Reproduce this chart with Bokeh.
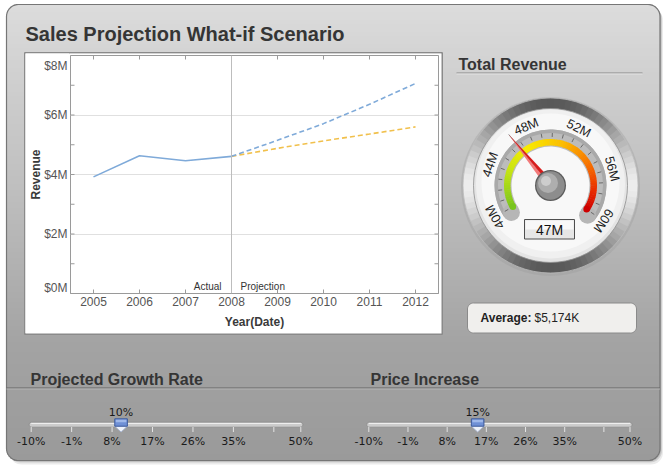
import math
from bokeh.plotting import figure
from bokeh.layouts import row
from bokeh.models import Range1d, FixedTicker, Span, GridBox
from bokeh.embed import file_html
from bokeh.resources import INLINE
from bokeh.core.properties import value

W, H = 666, 465
FONT = value("Liberation Sans")
SFONT = value("DejaVu Sans")

# ---------------- data ----------------
title_text = "Sales Projection What-if Scenario"
years = [2005, 2006, 2007, 2008, 2009, 2010, 2011, 2012]
year_labels = ["2005", "2006", "2007", "2008", "2009", "2010", "2011", "2012"]
actual_years = [2005, 2006, 2007, 2008]
actual_revenue = [3.92, 4.63, 4.46, 4.61]
proj_years = [2008, 2009, 2010, 2011, 2012]
proj_growth_revenue = [4.61, 5.15, 5.71, 6.36, 7.06]
proj_price_revenue = [4.61, 4.88, 5.13, 5.36, 5.60]
y_ticks = [0, 2, 4, 6, 8]
y_tick_labels = ["$0M", "$2M", "$4M", "$6M", "$8M"]
divider_year = 2008
section_labels = ["Actual", "Projection"]
x_axis_title = "Year(Date)"
y_axis_title = "Revenue"

gauge_title = "Total Revenue"
gauge_ticks = [40, 44, 48, 52, 56, 60]
gauge_tick_labels = ["40M", "44M", "48M", "52M", "56M", "60M"]
gauge_value = 46.6
gauge_value_label = "47M"
average_label = "Average:"
average_value = "$5,174K"

slider_ticks = [-10, -1, 8, 17, 26, 35, 44, 50]
slider_tick_labels = ["-10%", "-1%", "8%", "17%", "26%", "35%", "", "50%"]
growth_title = "Projected Growth Rate"
growth_value = 10
price_title = "Price Increase"
price_value = 15


# ---------------- helpers ----------------
def Y(y):
    return H - y


def hexgray(g):
    g = int(round(max(0, min(255, g))))
    return "#%02x%02x%02x" % (g, g, g)


def lerp_stops(t, stops):
    for (t0, c0), (t1, c1) in zip(stops[:-1], stops[1:]):
        if t <= t1:
            u = 0 if t1 == t0 else (t - t0) / (t1 - t0)
            return tuple(a + (b - a) * u for a, b in zip(c0, c1))
    return stops[-1][1]


def rgbhex(c):
    return "#%02x%02x%02x" % tuple(int(round(max(0, min(255, v)))) for v in c)


def rr_points(x0, y0, x1, y1, r, n=10):
    xs, ys = [], []
    for cx, cy, a0 in [(x1 - r, y0 + r, -90), (x1 - r, y1 - r, 0), (x0 + r, y1 - r, 90), (x0 + r, y0 + r, 180)]:
        for k in range(n + 1):
            a = math.radians(a0 + 90 * k / n)
            xs.append(cx + r * math.cos(a))
            ys.append(Y(cy + r * math.sin(a)))
    return xs, ys


PX0, PY0, PX1, PY1, PR = 6, 4, 659.5, 460, 12
BG_STOPS = [(4, (220,) * 3), (100, (204,) * 3), (200, (189,) * 3), (300, (171,) * 3),
            (345, (163,) * 3), (460, (154,) * 3)]

BOX_L, BOX_T, BOX_R, BOX_B = 25, 53, 441, 333
FR_L, FR_T, FR_B = 70, 55, 293

# ---------------- background page figure ----------------
bg = figure(width=W, height=H, x_range=Range1d(0, W), y_range=Range1d(0, H),
            output_backend="svg", toolbar_location=None, x_axis_location=None, y_axis_location=None,
            min_border=0, outline_line_color=None, background_fill_color="white",
            border_fill_color="white", frame_align=False)
bg.grid.visible = False

for dx, dy, a in [(3, 4, 0.08), (2, 2, 0.12), (1, 1, 0.12)]:
    xs, ys = rr_points(PX0 + dx, PY0 + dy, PX1 + dx, PY1 + dy, PR)
    bg.patch(xs, ys, fill_color="black", fill_alpha=a, line_color=None)
L, R, T, B, C = [], [], [], [], []
step = 2
y = PY0
while y < PY1:
    ym = y + step / 2
    inset = 0
    if ym < PY0 + PR:
        d = PY0 + PR - ym
        inset = PR - math.sqrt(max(PR * PR - d * d, 0))
    elif ym > PY1 - PR:
        d = ym - (PY1 - PR)
        inset = PR - math.sqrt(max(PR * PR - d * d, 0))
    L.append(PX0 + inset)
    R.append(PX1 - inset)
    T.append(Y(y) + 0.5)
    B.append(Y(min(y + step, PY1)) - 0.5)
    C.append(rgbhex(lerp_stops(ym, BG_STOPS)))
    y += step
bg.quad(left=L, right=R, top=T, bottom=B, fill_color=C, line_color=None)
xs, ys = rr_points(PX0, PY0, PX1, PY1, PR)
bg.patch(xs, ys, fill_color=None, line_color="#767676", line_width=1.2)
bx0, by0, bx1, by1 = BOX_L - 0.75, BOX_T - 0.75, BOX_R + 0.75, BOX_B + 0.75
bg.patch([bx0, bx1, bx1, bx0], [Y(by0), Y(by0), Y(by1), Y(by1)], fill_color="white",
         line_color="#8a8a8a", line_width=1.5)

bg.text(x=[25], y=[Y(33)], text=[title_text], text_font=FONT, text_font_size="20px",
        text_font_style="bold", text_color="#353535", text_align="left", text_baseline="alphabetic")

# ---------------- gauge ----------------
f = bg
f.text(x=[458], y=[Y(64)], text=[gauge_title], text_font=FONT, text_font_size="16px", text_font_style="bold",
       text_color="#353535", text_align="left", text_baseline="alphabetic")
f.segment(x0=[456], y0=[Y(72.5)], x1=[642], y1=[Y(72.5)], line_color="#888888", line_width=1)
f.segment(x0=[456], y0=[Y(73.5)], x1=[642], y1=[Y(73.5)], line_color="#e4e4e4", line_width=1)

cx, cy = 550, Y(185)
gmin, gmax = gauge_ticks[0], gauge_ticks[-1]


def ang(v):
    return math.radians(209.5 - (v - gmin) / (gmax - gmin) * 243.0)


f.circle(cx, cy - 1, radius=89.5, fill_color="#9a9a9a", fill_alpha=0.35, line_color=None)
n = 90
st = [2 * math.pi * k / n for k in range(n)]
en = [s + 2 * math.pi / n + 0.012 for s in st]
cols = [hexgray(238 - 150 * abs(math.sin(s + math.pi / n)) ** 1.5) for s in st]
f.annular_wedge(x=cx, y=cy, inner_radius=76, outer_radius=87.5, start_angle=st, end_angle=en,
                fill_color=cols, line_color=None)
f.circle(cx, cy, radius=87.5, fill_color=None, line_color="#bdbdbd", line_width=0.8)
f.circle(cx, cy, radius=77, fill_color="#e4e4e4", line_color="#8e8e8e", line_width=0.8)
f.circle(cx, cy + 1.5, radius=74.5, fill_color="#f0f0f0", line_color=None)
f.circle(cx, cy + 3, radius=69, fill_color="#f8f8f8", line_color=None)

a0, a1 = ang(gmax) - 0.09, ang(gmin) + 0.09
f.annular_wedge(x=cx, y=cy, inner_radius=39, outer_radius=56, start_angle=a0, end_angle=a1,
                fill_color="#bcbcbc", line_color=None)
f.annular_wedge(x=cx, y=cy, inner_radius=52.5, outer_radius=56, start_angle=a0, end_angle=a1,
                fill_color="#a9a9a9", line_color=None)
f.circle(x=[cx + 47.5 * math.cos(a) for a in (a0, a1)], y=[cy + 47.5 * math.sin(a) for a in (a0, a1)],
         radius=8.5, fill_color="#b6b6b6", line_color=None)

ARC_STOPS = [(0.0, (120, 196, 30)), (0.2, (196, 228, 20)), (0.36, (248, 236, 0)), (0.55, (252, 192, 0)),
             (0.75, (247, 112, 0)), (0.9, (232, 40, 0)), (1.0, (205, 0, 0))]
m = 80
vs = [gmin + (gmax - gmin) * k / m for k in range(m + 1)]
f.annular_wedge(x=cx, y=cy, inner_radius=40, outer_radius=46.5,
                start_angle=[ang(vs[k + 1]) for k in range(m)],
                end_angle=[ang(vs[k]) + 0.01 for k in range(m)],
                fill_color=[rgbhex(lerp_stops((k + 0.5) / m, ARC_STOPS)) for k in range(m)], line_color=None)
f.circle(x=[cx + 43.25 * math.cos(ang(v)) for v in (gmin, gmax)],
         y=[cy + 43.25 * math.sin(ang(v)) for v in (gmin, gmax)], radius=3.25,
         fill_color=[rgbhex(ARC_STOPS[0][1]), rgbhex(ARC_STOPS[-1][1])], line_color=None)

tv = list(range(gmin, gmax + 1))
f.segment(x0=[cx + 48.5 * math.cos(ang(v)) for v in tv], y0=[cy + 48.5 * math.sin(ang(v)) for v in tv],
          x1=[cx + 52.5 * math.cos(ang(v)) for v in tv], y1=[cy + 52.5 * math.sin(ang(v)) for v in tv],
          line_color="#6a6a6a", line_width=1)
f.text(x=[cx + 64 * math.cos(ang(v)) for v in gauge_ticks], y=[cy + 64 * math.sin(ang(v)) for v in gauge_ticks],
       text=gauge_tick_labels, angle=[ang(v) - math.pi / 2 for v in gauge_ticks], text_font=FONT,
       text_font_size="13px", text_color="#1e1e1e", text_align="center", text_baseline="middle")

th = ang(gauge_value)
tip = (cx + 66 * math.cos(th), cy + 66 * math.sin(th))
back = (cx - 5 * math.cos(th), cy - 5 * math.sin(th))
pl = (cx + 4.5 * math.cos(th + math.pi / 2), cy + 4.5 * math.sin(th + math.pi / 2))
pr = (cx + 4.5 * math.cos(th - math.pi / 2), cy + 4.5 * math.sin(th - math.pi / 2))
f.segment(x0=[cx], y0=[cy], x1=[tip[0]], y1=[tip[1]], line_color="#8a8a8a", line_width=1)
f.patches(xs=[[tip[0], pl[0], back[0]], [tip[0], pr[0], back[0]]],
          ys=[[tip[1], pl[1], back[1]], [tip[1], pr[1], back[1]]],
          fill_color=["#f27a7a", "#d81c1c"], line_color=None)

f.circle(cx, cy, radius=15.5, fill_color="#5c5c5c", line_color=None)
f.circle(cx, cy, radius=14.2, fill_color="#8d8d8d", line_color=None)
f.circle(cx - 2.5, cy + 2.5, radius=10, fill_color="#aeaeae", line_color=None)
f.circle(cx - 4.5, cy + 4.5, radius=5, fill_color="#cdcdcd", line_color=None)

f.quad(left=[524], right=[574], top=[Y(219)], bottom=[Y(238.5)], fill_color="#e6e6e6",
       line_color="#4e4e4e", line_width=1)
f.quad(left=[525], right=[573], top=[Y(220)], bottom=[Y(229)], fill_color="#f8f8f8", line_color=None)
f.text(x=[549], y=[Y(229)], text=[gauge_value_label], text_font=FONT, text_font_size="14px",
       text_color="#111111", text_align="center", text_baseline="middle")

xs, ys = rr_points(467, 302.5, 636, 332.5, 6)
f.patch(xs, ys, fill_color="#f0efed", line_color="#8a8a8a", line_width=1)
f.text(x=[480], y=[Y(317.5)], text=[average_label], text_font=FONT, text_font_size="12px",
       text_font_style="bold", text_color="#222222", text_align="left", text_baseline="middle")
f.text(x=[534], y=[Y(317.5)], text=[average_value], text_font=FONT, text_font_size="12px",
       text_color="#222222", text_align="left", text_baseline="middle")

# ---------------- sliders ----------------
f.segment(x0=[PX0], y0=[Y(387.5)], x1=[PX1], y1=[Y(387.5)], line_color="#656565", line_width=1)
f.segment(x0=[PX0], y0=[Y(388.5)], x1=[PX1], y1=[Y(388.5)], line_color="#b4b4b4", line_width=1)
f.text(x=[30, 370], y=[Y(379), Y(379)], text=[growth_title, price_title], text_font=FONT,
       text_font_size="16px", text_font_style="bold", text_color="#353535", text_align="left",
       text_baseline="alphabetic")


def draw_slider(f, x0, x1, val):
    smin, smax = slider_ticks[0], slider_ticks[-1]

    def sx(v):
        return x0 + (v - smin) / (smax - smin) * (x1 - x0)

    xs, ys = rr_points(x0 - 2, 421.7, x1 + 2, 426.7, 2.4, n=4)
    f.patch(xs, ys, fill_color="#cccccc", line_color="#8c8c8c", line_width=0.8)
    f.segment(x0=[x0], y0=[Y(422.9)], x1=[x1], y1=[Y(422.9)], line_color="#f2f2f2", line_width=1)
    f.segment(x0=[sx(t) for t in slider_ticks], y0=[Y(426.5)] * len(slider_ticks),
              x1=[sx(t) for t in slider_ticks], y1=[Y(431.5)] * len(slider_ticks),
              line_color="#e4e4e4", line_width=1)
    f.text(x=[sx(t) for t in slider_ticks], y=[Y(441)] * len(slider_ticks), text=slider_tick_labels,
           text_font=SFONT, text_font_size="11px", text_color="#1a1a1a", text_align="center",
           text_baseline="middle")
    px = sx(val)
    f.patch([px - 6.5, px + 6.5, px, px - 6.5], [Y(425.5), Y(425.5), Y(431.5), Y(425.5)],
            fill_color="#eef2fa", line_color="#a4b4d2", line_width=0.8)
    f.quad(left=[px - 6.3], right=[px + 6.3], top=[Y(418.3)], bottom=[Y(425.7)], fill_color="#6f90d6",
           line_color="#3d5a9c", line_width=1)
    f.quad(left=[px - 5.3], right=[px + 5.3], top=[Y(419.3)], bottom=[Y(421.8)], fill_color="#9fb8ea",
           line_color=None)
    f.text(x=[px], y=[Y(412)], text=["%d%%" % val], text_font=SFONT, text_font_size="11px",
           text_color="#1a1a1a", text_align="center", text_baseline="middle")


draw_slider(f, 30.7, 300.3, growth_value)
draw_slider(f, 368.3, 629.5, price_value)

# ---------------- chart ----------------
y_lo, y_hi = y_ticks[0], y_ticks[-1]
chart = figure(width=BOX_R - FR_L + 1, height=BOX_B - BOX_T, x_range=Range1d(2004.5, 2012.5),
               y_range=Range1d(y_lo, y_hi), output_backend="svg", toolbar_location=None,
               y_axis_location=None, frame_align=False,
               min_border_left=1, min_border_right=3, min_border_top=FR_T - BOX_T,
               min_border_bottom=BOX_B - FR_B,
               background_fill_color="white", border_fill_color="white", outline_line_color="#9a9a9a")
minor_y = [(a + b) / 2 for a, b in zip(y_ticks[:-1], y_ticks[1:])]
xax = chart.xaxis[0]
xax.ticker = FixedTicker(ticks=years)
xax.major_label_overrides = {t: s for t, s in zip(years, year_labels)}
xax.major_label_standoff = 3
xax.axis_label = x_axis_title
xax.axis_label_standoff = 6
xax.major_label_text_font = "Liberation Sans"
xax.major_label_text_font_size = "12px"
xax.major_label_text_color = "#555555"
xax.axis_label_text_font = "Liberation Sans"
xax.axis_label_text_font_size = "12px"
xax.axis_label_text_font_style = "bold"
xax.axis_label_text_color = "#3a3a3a"
xax.axis_line_color = "#9a9a9a"
xax.major_tick_line_color = "#9a9a9a"
xax.major_tick_in = 4
xax.major_tick_out = 0
xax.minor_tick_line_color = None
chart.xgrid.visible = False
chart.ygrid.ticker = FixedTicker(ticks=y_ticks)
chart.ygrid.grid_line_color = "#e0e0e0"

chart.add_layout(Span(location=divider_year, dimension="height", line_color="#bdbdbd", line_width=1))
chart.scatter(x=years, y=[y_hi] * len(years), marker="dash", angle=math.pi / 2, size=8, line_color="#9a9a9a")
side_ticks = sorted(y_ticks + minor_y)
chart.scatter(x=[chart.x_range.end] * len(side_ticks), y=side_ticks, marker="dash", size=8,
              line_color="#9a9a9a")
chart.scatter(x=[chart.x_range.start] * len(side_ticks), y=side_ticks, marker="dash", size=8,
              line_color="#9a9a9a")

BLUE = "#7faad9"
ORANGE = "#f1c04c"
chart.line(actual_years, actual_revenue, line_color=BLUE, line_width=1.6)
chart.line(proj_years, proj_price_revenue, line_color=ORANGE, line_width=1.6, line_dash="5 3")
chart.line(proj_years, proj_growth_revenue, line_color=BLUE, line_width=1.6, line_dash="5 3")
chart.text(x=[divider_year, divider_year], y=[y_lo, y_lo], text=section_labels, x_offset=[-10, 9],
           y_offset=[-2, -2], text_align=["right", "left"], text_baseline="bottom", text_font=FONT,
           text_font_size="10px", text_color="#333333")

# y-axis labels panel, sharing the chart's value scale
ppu = (FR_B - FR_T) / (y_hi - y_lo)
ylab = figure(width=FR_L - 1 - BOX_L, height=BOX_B - BOX_T, x_range=Range1d(BOX_L, FR_L - 1),
              y_range=Range1d(y_lo - (BOX_B - FR_B) / ppu, y_hi + (FR_T - BOX_T) / ppu),
              output_backend="svg", toolbar_location=None, x_axis_location=None, y_axis_location=None,
              min_border=0, outline_line_color=None, background_fill_color="white",
              border_fill_color="white", frame_align=False)
ylab.grid.visible = False
ylab_off = [-6 if t == y_lo else (10.5 if t == y_hi else 0) for t in y_ticks]
ylab.text(x=[FR_L - 3] * len(y_ticks), y=y_ticks, text=y_tick_labels, y_offset=ylab_off,
          text_align="right", text_baseline="middle", text_font=FONT, text_font_size="12px",
          text_color="#555555")
ylab.text(x=[35], y=[(y_lo + y_hi) / 2], text=[y_axis_title], angle=math.pi / 2, text_align="center",
          text_baseline="middle", text_font=FONT, text_font_size="12px", text_font_style="bold",
          text_color="#3a3a3a")

inner = row(ylab, chart, spacing=0, margin=(BOX_T, 0, 0, BOX_L))
grid = GridBox(children=[(bg, 0, 0), (inner, 0, 0)], spacing=0)
open("out.html", "w").write(file_html(grid, INLINE, title="Sales Projection"))
